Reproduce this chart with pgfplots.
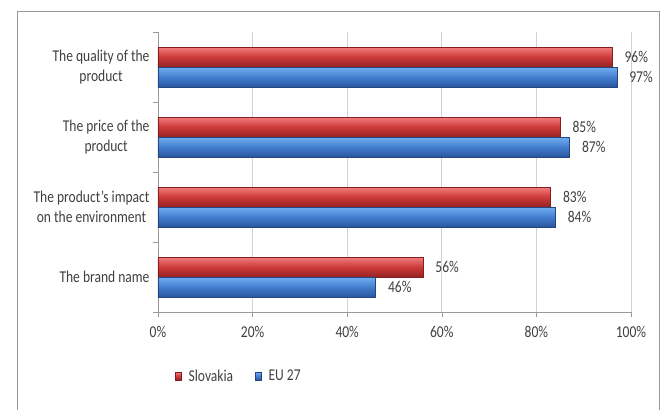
\documentclass[border=0pt]{standalone}
\usepackage{fontspec}
\setmainfont{Carlito}[FakeStretch=0.82]
\usepackage{pgfplots}
\pgfplotsset{compat=1.18}
\definecolor{redtop}{RGB}{242,125,125}
\definecolor{redmid}{RGB}{205,58,58}
\definecolor{redbot}{RGB}{150,35,35}
\definecolor{redline}{RGB}{130,30,30}
\definecolor{bluetop}{RGB}{115,175,242}
\definecolor{bluemid}{RGB}{66,126,206}
\definecolor{bluebot}{RGB}{42,86,158}
\definecolor{blueline}{RGB}{35,70,130}
\definecolor{txt}{RGB}{64,64,64}
\newcommand{\cfont}{\fontsize{16.5}{20}\selectfont}
\pgfplotsset{
  redbar/.style={draw=redline, top color=redtop, bottom color=redbot, middle color=redmid, bar shift=10pt},
  bluebar/.style={draw=blueline, top color=bluetop, bottom color=bluebot, middle color=bluemid, bar shift=-10pt},
}
\begin{document}
\begin{tikzpicture}[x=1pt,y=1pt]
\path[use as bounding box] (-158,-98) rectangle (504,312);
\draw[gray!80, line width=0.8pt] (-141,-100) -- (-141,301) -- (501,301) -- (501,-100);
\begin{axis}[
  at={(0,0)}, anchor=south west, scale only axis,
  width=473pt, height=280pt,
  xbar, bar width=20pt,
  xmin=0, xmax=100, ymin=-0.5, ymax=3.5,
  axis x line=bottom, axis y line=left,
  axis line style={-, gray!80},
  xtick={0,20,40,60,80,100},
  xticklabels={0\%,20\%,40\%,60\%,80\%,100\%},
  ytick={0,1,2,3},
  yticklabels={The brand name,{The product's impact\\on the environment},{The price of the\\product},{The quality of the\\product}},
  yticklabel style={align=center, font=\cfont, text=txt},
  xticklabel style={font=\cfont, text=txt, yshift=-6pt},
  major y tick style={draw=none},
  minor ytick={-0.5,0.5,1.5,2.5,3.5},
  minor y tick style={gray!80},
  major x tick style={gray!80},
  tick align=outside, major tick length=5pt, minor tick length=5pt,
  xmajorgrids, grid style={gray!35, line width=0.6pt},
  nodes near coords={\pgfmathprintnumber[assume math mode=true]{\pgfplotspointmeta}\%},
  every node near coord/.append style={font=\cfont, text=txt, xshift=9pt},
  legend columns=2,
  legend style={at={(axis description cs:0.036,-0.229)}, anchor=west, draw=none, fill=none,
    font=\cfont, text=txt, inner sep=0pt,
    /tikz/every even column/.append style={column sep=20pt}},
  legend cell align=left,
  legend image code/.code={\draw[#1] (0pt,-4pt) rectangle (6pt,4pt);},
]
\addplot[redbar] coordinates {(56,0)};
\addplot[redbar, forget plot] coordinates {(83,1)};
\addplot[redbar, forget plot] coordinates {(85,2)};
\addplot[redbar, forget plot] coordinates {(96,3)};
\addplot[bluebar] coordinates {(46,0)};
\addplot[bluebar, forget plot] coordinates {(84,1)};
\addplot[bluebar, forget plot] coordinates {(87,2)};
\addplot[bluebar, forget plot] coordinates {(97,3)};
\legend{\hspace{5pt}Slovakia, \hspace{5pt}EU 27}
\end{axis}
\end{tikzpicture}
\end{document}
